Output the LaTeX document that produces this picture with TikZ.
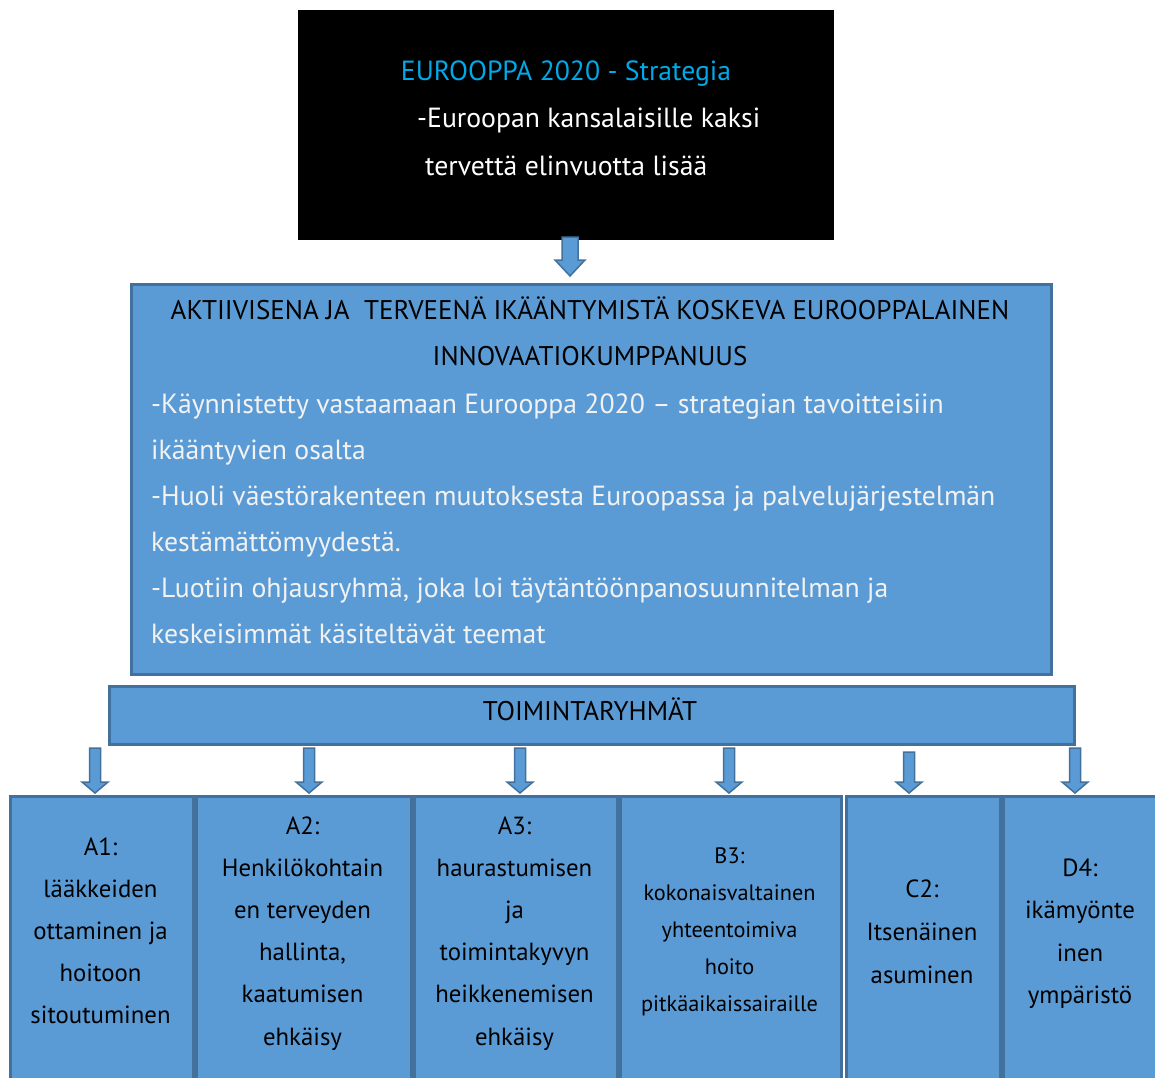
\documentclass[tikz,border=0pt]{standalone}
\usepackage{fontspec}
\setmainfont{PT Sans}
\usetikzlibrary{calc}
\definecolor{blu}{HTML}{5B9BD5}
\definecolor{bord}{HTML}{41719C}
\definecolor{tcyan}{HTML}{00A9E8}
\definecolor{offw}{HTML}{F2F2F2}
\tikzset{
  bluebox/.style={draw=bord, fill=blu, line width=2.5pt, inner sep=0pt, anchor=north west},
  barrow/.style={draw=bord, fill=blu, line width=1.5pt, line join=miter},
  mtxt/.style={font=\fontsize{27.7}{32}\selectfont, inner sep=0pt},
  ctxt/.style={font=\fontsize{27}{32}\selectfont, inner sep=0pt},
  btxt/.style={font=\fontsize{24.8}{28}\selectfont, inner sep=0pt, anchor=base},
  stxt/.style={font=\fontsize{22.3}{26}\selectfont, inner sep=0pt, anchor=base},
}
% block arrow: from, to, half shaft, half head, head length
\newcommand\blockarr[5]{%
  \path[barrow] let \p1=(#1), \p2=(#2) in
   (\x1-#3,\y1) -- (\x1+#3,\y1) -- (\x1+#3,\y2+#5) -- (\x1+#4,\y2+#5) -- (\x1,\y2)
   -- (\x1-#4,\y2+#5) -- (\x1-#3,\y2+#5) -- cycle;}
% stacked centred lines: name, x, first baseline, step, style, list
\newcommand\stacklines[6]{%
  \foreach \t [count=\i from 0] in {#6}
    \node[#5] (#1-\i) at (#2,#3+\i*#4) {\t};}
\begin{document}
\begin{tikzpicture}[x=1pt,y=-1pt]
\useasboundingbox (0,0) rectangle (1155,1077);
\clip (0,0) rectangle (1155,1077);

% top black box
\node[fill=black, inner sep=0pt, anchor=north west, minimum width=536pt, minimum height=230pt] (top) at (298,10) {};
\node[mtxt, text=tcyan, anchor=base] (t1) at (566,80) {EUROOPPA 2020 - Strategia};
\node[mtxt, text=white, anchor=base west] (t2) at (417,127) {-Euroopan kansalaisille kaksi};
\node[mtxt, text=white, anchor=base west] (t3) at (425,175) {tervettä elinvuotta lisää};

% arrow top -> main
\coordinate (a0s) at (570,237);
\coordinate (a0e) at (570,276);
\blockarr{a0s}{a0e}{8pt}{15pt}{16pt}

% main box
\node[bluebox, minimum width=920pt, minimum height=390pt] (eip) at (130,283) {};
\node[ctxt, anchor=base] (h1) at (590,319) {AKTIIVISENA JA\ \ TERVEENÄ IKÄÄNTYMISTÄ KOSKEVA EUROOPPALAINEN};
\node[ctxt, anchor=base] (h2) at (590,365) {INNOVAATIOKUMPPANUUS};
\foreach \t [count=\i from 0] in {
  -Käynnistetty vastaamaan Eurooppa 2020 – strategian tavoitteisiin,
  ikääntyvien osalta,
  -Huoli väestörakenteen muutoksesta Euroopassa ja palvelujärjestelmän,
  kestämättömyydestä.,
  {-Luotiin ohjausryhmä, joka loi täytäntöönpanosuunnitelman ja},
  keskeisimmät käsiteltävät teemat}
  \node[mtxt, text=offw, anchor=base west] (b-\i) at (151,413+\i*46) {\t};

% toimintaryhmät
\node[bluebox, minimum width=965pt, minimum height=58pt] (tr) at (108,685) {};
\node[ctxt, anchor=base] (trt) at (590,720) {TOIMINTARYHMÄT};

% bottom boxes
\node[bluebox, minimum width=183pt, minimum height=300pt] (A1) at (9,795) {};
\node[bluebox, minimum width=215pt, minimum height=300pt] (A2) at (195,795) {};
\node[bluebox, minimum width=203pt, minimum height=300pt] (A3) at (413,795) {};
\node[bluebox, minimum width=221pt, minimum height=300pt] (B3) at (619,795) {};
\node[bluebox, minimum width=154pt, minimum height=300pt] (C2) at (845,795) {};
\node[bluebox, minimum width=160pt, minimum height=300pt] (D4) at (1002,795) {};

% small arrows
\foreach \nm/\xx/\yy in {A1/95/748, A2/309/748, A3/520/748, B3/729/748, C2/909/752, D4/1075/748}{
  \coordinate (s\nm) at (\xx,\yy);
  \coordinate (e\nm) at (\xx,793);
  \blockarr{s\nm}{e\nm}{5.5pt}{13pt}{11pt}
}

% bottom texts
\stacklines{ta1}{100.5}{855}{42.2}{btxt}{A1:,lääkkeiden,ottaminen ja,hoitoon,sitoutuminen}
\stacklines{ta2}{302.5}{834}{42.2}{btxt}{A2:,Henkilökohtain,en terveyden,{hallinta,},kaatumisen,ehkäisy}
\stacklines{ta3}{514.5}{834}{42.2}{btxt}{A3:,haurastumisen,ja,toimintakyvyn,heikkenemisen,ehkäisy}
\stacklines{tb3}{729.5}{863}{37.2}{stxt}{B3:,kokonaisvaltainen,yhteentoimiva,hoito,pitkäaikaissairaille}
\stacklines{tc2}{922}{897}{43}{btxt}{C2:,Itsenäinen,asuminen}
\stacklines{td4}{1080}{876}{42.5}{btxt}{D4:,ikämyönte,inen,ympäristö}
\end{tikzpicture}
\end{document}
